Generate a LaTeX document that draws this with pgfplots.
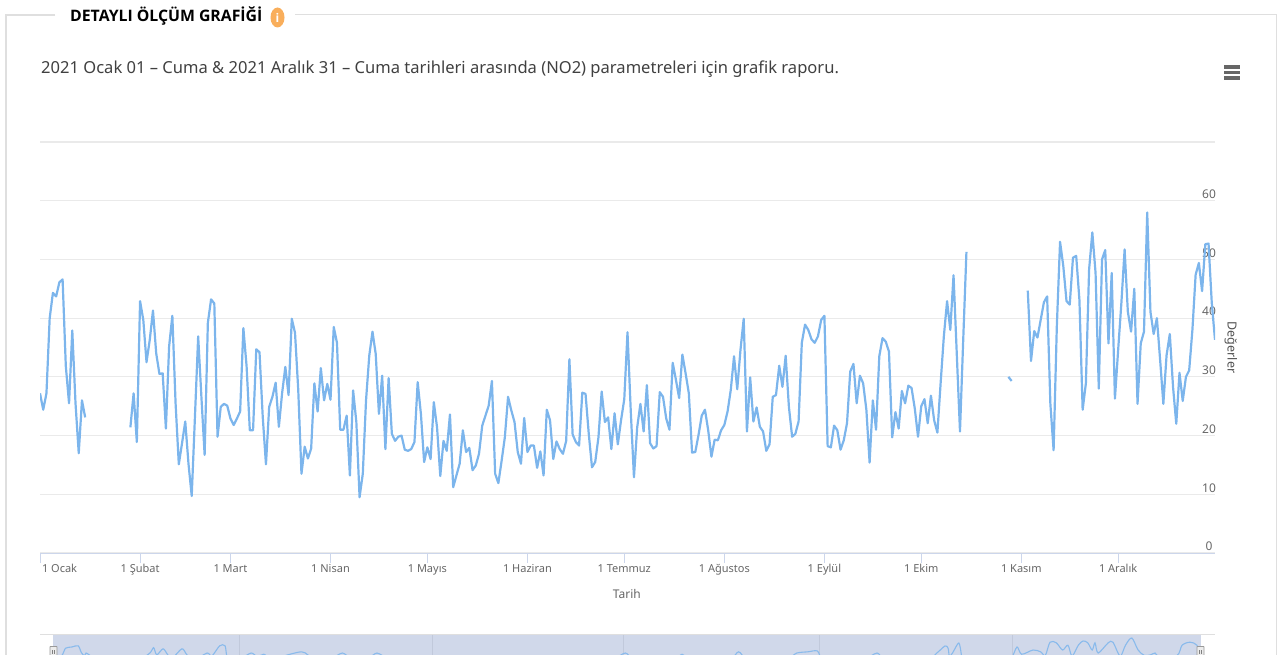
\documentclass[border=0pt]{standalone}
\usepackage{fontspec}
\usepackage{pgfplots}
\pgfplotsset{compat=1.18}
\setmainfont{Noto Sans}
\newfontfamily\baslik{Open Sans}
\definecolor{seri}{HTML}{7CB5EC}
\definecolor{izgara}{HTML}{EAEAEA}
\definecolor{eksen}{HTML}{CCD6EB}
\definecolor{yazi}{HTML}{666666}
\definecolor{bant}{HTML}{D0D8EA}
\definecolor{turuncu}{HTML}{F9AE5B}
\newcommand{\olcum}{
 (0,27.2)(1,24.4)(2,27.2)(3,40)(4,44.3)(5,43.7)(6,46.1)(7,46.6)(8,31.8)(9,25.5)(10,37.9)(11,25.5)(12,17)(13,26)(14,23.1)
 (15,nan)
 (28,21.4)(29,27.2)(30,18.9)(31,42.9)(32,39.7)(33,32.5)(34,36.3)(35,41.3)(36,34)(37,30.5)(38,30.6)(39,21.2)
 (40,35.2)(41,40.4)(42,25.5)(43,15.1)(44,18.7)(45,22.4)(46,15.2)(47,9.7)(48,23.2)(49,36.9)(50,26.6)(51,16.7)
 (52,39.2)(53,43.2)(54,42.5)(55,19.8)(56,24.9)(57,25.4)(58,25.1)(59,22.9)(60,21.8)(61,22.9)(62,24.1)(63,38.3)
 (64,31.8)(65,20.9)(66,20.9)(67,34.7)(68,34.2)(69,23.2)(70,15.1)(71,24.9)(72,26.6)(73,29)(74,21.5)(75,27.2)
 (76,31.7)(77,26.9)(78,39.9)(79,37.5)(80,27.8)(81,13.5)(82,18.1)(83,16.1)(84,17.8)(85,28.9)(86,24.1)(87,31.5)
 (88,26)(89,28.8)(90,26.1)(91,38.5)(92,35.8)(93,21)(94,21)(95,23.4)(96,13.2)(97,27.7)(98,22.3)(99,9.5)
 (100,13.5)(101,26)(102,33.6)(103,37.7)(104,33.9)(105,23.7)(106,30.2)(107,17.7)(108,29.8)(109,20.3)(110,19.1)(111,19.8)
 (112,20)(113,17.6)(114,17.4)(115,17.7)(116,18.9)(117,29.1)(118,23.7)(119,15.5)(120,18)(121,16)(122,25.7)(123,21.4)
 (124,13.1)(125,19.1)(126,17.4)(127,23.6)(128,11.2)(129,13.2)(130,15.2)(131,20.9)(132,17.2)(133,17.9)(134,14.1)(135,14.9)
 (136,16.9)(137,21.7)(138,23.4)(139,25.1)(140,29.3)(141,13.5)(142,11.9)(143,15.7)(144,19.7)(145,26.6)(146,24.3)(147,22.3)
 (148,17.2)(149,15.2)(150,23)(151,17.2)(152,18.3)(153,18.3)(154,14.5)(155,17.3)(156,13.2)(157,24.4)(158,22.6)(159,16)
 (160,19)(161,17.7)(162,16.9)(163,19.1)(164,33)(165,20.2)(166,18.9)(167,18.3)(168,27.3)(169,27.1)(170,20.3)(171,14.6)
 (172,15.5)(173,19.7)(174,27.5)(175,22.3)(176,23.1)(177,17.7)(178,23.8)(179,18.5)(180,22.6)(181,26.2)(182,37.6)(183,24.3)
 (184,12.9)(185,21.4)(186,25.4)(187,20.7)(188,28.6)(189,18.7)(190,17.8)(191,18.2)(192,27.4)(193,26.6)(194,22.9)(195,21)
 (196,32.4)(197,29.5)(198,26.4)(199,33.8)(200,30.6)(201,27.2)(202,17.1)(203,17.2)(204,20.1)(205,23.4)(206,24.4)(207,20.9)
 (208,16.4)(209,19.3)(210,19.2)(211,20.9)(212,21.8)(213,24.1)(214,27.8)(215,33.5)(216,27.9)(217,34.6)(218,39.9)(219,20.7)
 (220,29.9)(221,22.4)(222,24.8)(223,21.5)(224,20.7)(225,17.4)(226,18.5)(227,26.6)(228,26.9)(229,31.9)(230,28.3)(231,33.6)
 (232,24.9)(233,19.8)(234,20.3)(235,22.4)(236,35.8)(237,38.9)(238,38)(239,36.4)(240,35.8)(241,36.9)(242,39.7)(243,40.4)
 (244,18.2)(245,18)(246,21.7)(247,20.9)(248,17.6)(249,19.2)(250,22.1)(251,30.9)(252,32.2)(253,25.5)(254,30.2)(255,28.9)
 (256,24.4)(257,15.4)(258,26)(259,21)(260,33.5)(261,36.6)(262,36)(263,34.3)(264,19.7)(265,24)(266,21.2)(267,27.6)
 (268,25.5)(269,28.5)(270,28.1)(271,24.6)(272,19.8)(273,25)(274,26.2)(275,22.1)(276,26.8)(277,22.6)(278,20.5)(279,28.9)
 (280,36.9)(281,42.9)(282,38)(283,47.3)(284,34)(285,20.7)(286,36.3)(287,51.3)
 (288,nan)
 (300,30)(301,29.3)
 (302,nan)
 (306,44.7)(307,32.7)(308,37.8)(309,36.7)(310,39.7)(311,42.7)(312,43.7)(313,25.4)(314,17.5)(315,38.6)(316,53)(317,48.9)
 (318,42.9)(319,42.3)(320,50.3)(321,50.6)(322,43.1)(323,24.4)(324,28.9)(325,48.3)(326,54.6)(327,47.7)(328,28)(329,50)
 (330,51.6)(331,35.7)(332,47.7)(333,26.3)(334,34.6)(335,42.6)(336,51.7)(337,41.1)(338,37.7)(339,45)(340,25.4)(341,35.7)
 (342,37.7)(343,58)(344,41.1)(345,37.3)(346,40)(347,32.9)(348,25.4)(349,33.7)(350,37.3)(351,28.3)(352,22)(353,30.7)
 (354,25.9)(355,30)(356,31.1)(357,38)(358,47.4)(359,49.4)(360,44.6)(361,52.6)(362,52.7)(363,42.6)(364,36.3)
}
\begin{document}
\begin{tikzpicture}[x=1pt,y=-1pt]
\path[use as bounding box] (0,0) rectangle (1277,655);
% panel frame
\draw[color=izgara!90!gray,line width=2pt] (55,15) -- (6,15) -- (6,655);
\draw[color=izgara!90!gray,line width=1pt] (295,15) -- (1276,15) -- (1276,655);
\node[anchor=west,inner sep=0pt,font=\baslik\fontsize{15.8}{18}\selectfont\bfseries] at (70,16) {DETAYLI ÖLÇÜM GRAFİĞİ};
\fill[color=turuncu] (277.5,17.5) ellipse (7 and 10);
\node[text=white,inner sep=0pt,font=\baslik\fontsize{12}{12}\selectfont\bfseries] at (277.5,17.5) {i};
\node[anchor=west,inner sep=0pt,text=black!75,font=\fontsize{16.55}{19}\selectfont] at (41,69.5) {2021 Ocak 01 – Cuma \& 2021 Aralık 31 – Cuma tarihleri arasında (NO2) parametreleri için grafik raporu.};
% menu icon
\foreach \yy in {67,72.5,78} \fill[color=yazi] (1223.5,\yy-1.6) rectangle (1240,\yy+1.6);
% main chart
\begin{axis}[
    at={(40pt,-553pt)}, anchor=south west,
    scale only axis, width=1175pt, height=411pt,
    xmin=0, xmax=364, ymin=0, ymax=70,
    unbounded coords=jump,
    axis y line*=right, axis x line*=bottom,
    axis line style={color=eksen,line width=1pt},
    y axis line style={draw=none},
    ytick={0,10,...,70},
    yticklabels={0,10,20,30,40,50,60,},
    major y tick style={draw=none},
    ymajorgrids,
    major grid style={color=izgara,line width=1.2pt},
    yticklabel style={anchor=center,text=yazi,font=\fontsize{12}{14}\selectfont,xshift=-16pt,yshift=6.5pt},
    /pgf/number format/assume math mode=true,
    xtick={31,59,90,120,151,181,212,243,273,304,334},
    xticklabels={1 Şubat,1 Mart,1 Nisan,1 Mayıs,1 Haziran,1 Temmuz,1 Ağustos,1 Eylül,1 Ekim,1 Kasım,1 Aralık},
    extra x ticks={0},
    extra x tick labels={1 Ocak},
    extra x tick style={xticklabel style={anchor=base west,xshift=-1.5pt}},
    xticklabel style={anchor=base,text=yazi,font=\fontsize{11}{14}\selectfont,yshift=-9pt},
    x tick style={color=eksen,line width=1pt},
    major tick length=10pt,
    tick align=outside,
    xlabel={Tarih},
    xlabel style={text=yazi,font=\fontsize{12}{14}\selectfont,at={(axis description cs:0.4994,0)},anchor=center,yshift=-40.5pt},
    ylabel={Değerler},
    ylabel style={text=yazi!80!black,font=\fontsize{12.5}{14}\selectfont,at={(axis description cs:1.0136,0.5)},anchor=center,rotate=180},
]
\addplot[color=seri,line width=2.2pt,line join=round,no markers] coordinates {\olcum};
\end{axis}
% navigator
\fill[color=bant] (53,634) rectangle (1201,655);
\foreach \xx in {239,432,623,819,1012} \draw[color=eksen!85!gray,line width=0.8pt] (\xx,634) -- (\xx,655);
\draw[color=izgara!90!gray,line width=1pt] (40,634) -- (1215,634);
\begin{axis}[
    at={(53pt,-655pt)}, anchor=south west,
    scale only axis, width=1148pt, height=22pt,
    xmin=0, xmax=365, ymin=29.7, ymax=66.3,
    unbounded coords=jump, hide axis,
]
\addplot[color=seri!85!bant,line width=1.1pt,smooth,tension=0.5,no markers] coordinates {
 (1,22)(3,30)(4,41)(6,43)(8,45)(9,34)(10,28)(10.5,33)(12,28)
 (13,nan)
 (28,22)(31,34)(32,42)(33,30)(35,40)(36.5,30)(38,25)(41,40)(42.6,30)(45,22)(49,33)(50.5,28)(53,45)(54.7,45)(55.3,28)(57,20)
 (58,nan)
 (60,24)(63,33)(65,27)(67,31)(70,24)(79,35)(82,24)
 (83,nan)
 (89,24)(92,33)(95,24)(100,24)(103,33)(106,24)
 (107,nan)
 (179,24)(182,33)(185,24)(197,24)(200,31)(203,24)(215,24)(218,35)(221,24)(233,24)(236.5,33)(240,35)(243,36.5)(244,25)
 (245,nan)
 (259,24)(262,33)(265,24)(278,24)(281,33)(283.6,44.7)(284.6,41)(285,28)(286,33)(288,49.7)(288.8,30)
 (289,nan)
 (305,25)(306.5,43)(308,31)(311.6,38)(314,35)(315.5,29)(317,51)(319,50)(321,38)(322.7,46)(324,28)(326,46)(327.5,53)(329,50)(330.4,38)(331.3,50)(332.3,33)(335.5,50)(337,51)(339.3,28)(341,46)(343,58)(345,38)(347,29)(349,30)(350.4,33)(352,26)(357.4,29)(359,46)(361.5,51)(363.7,46)(364.7,28)
};
\end{axis}
% navigator handles
\foreach \xx/\yy in {53.5/651,1200.5/651} {
  \filldraw[draw=gray!80,fill=gray!15,line width=0.8pt,rounded corners=0.5pt] (\xx-3.5,\yy-4.5) rectangle (\xx+3.5,\yy+6);
  \draw[gray,line width=0.5pt] (\xx-1,\yy-1) -- (\xx-1,\yy+3) (\xx+1,\yy-1) -- (\xx+1,\yy+3);
}
\end{tikzpicture}
\end{document}
